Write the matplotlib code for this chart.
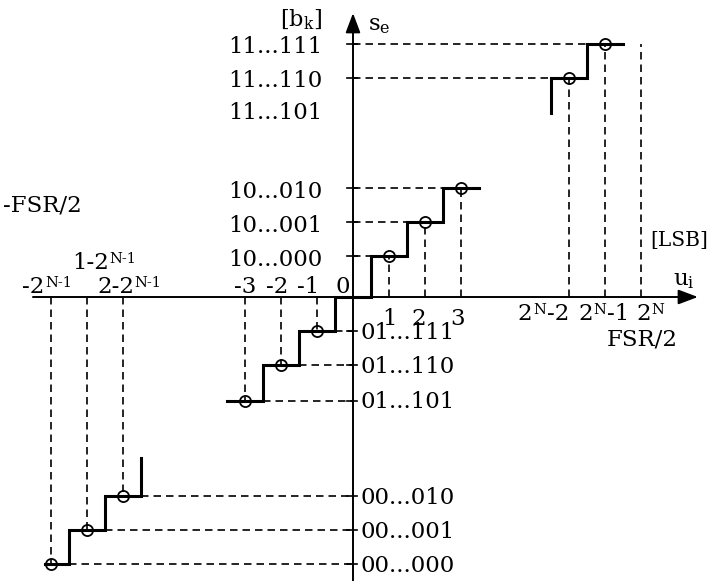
import matplotlib
matplotlib.use("Agg")
import matplotlib.pyplot as plt

plt.rcParams['font.family'] = 'DejaVu Serif'
plt.rcParams['mathtext.fontset'] = 'dejavuserif'

# output codes [b_k] and their levels on the s_e axis (step units)
codes_hi = ['11...111', '11...110', '10...010', '10...001', '10...000']
lev_hi = [7.45, 6.45, 3.2, 2.2, 1.2]
codes_lo = ['01...111', '01...110', '01...101', '00...010', '00...001', '00...000']
lev_lo = [-1.0, -2.0, -3.05, -5.85, -6.85, -7.85]
gap_code = '11...101'
gap_lev = 5.4

# staircase around zero (input u_i in LSB)
mid_edges = [-3.5, -2.5, -1.5, -0.5, 0.5, 1.5, 2.5, 3.5]
mid_lev = [-3.05, -2.0, -1.0, 0.0, 1.2, 2.2, 3.2]
mid_u = [-3, -2, -1, 1, 2, 3]
mid_s = [-3.05, -2.0, -1.0, 1.2, 2.2, 3.2]

# upper end of the range (2^N-2, 2^N-1, 2^N)
top_edges = [5.5, 6.5, 7.5]
top_lev = [6.45, 7.45]
top_start = 5.4
top_u = [6, 7]
top_s = [6.45, 7.45]
fsr_u = 8

# lower end of the range (-2^(N-1) ...)
bot_edges = [-8.55, -7.9, -6.9, -5.9]
bot_lev = [-7.85, -6.85, -5.85]
bot_end = -4.75
bot_u = [-8.4, -7.4, -6.4]
bot_s = [-7.85, -6.85, -5.85]

neg_labels = ['-3', '-2', '-1', '0']
neg_label_x = [-3.0, -2.1, -1.25, -0.28]
pos_labels = ['1', '2', '3']
pos_label_x = [1.0, 1.82, 2.9]

FS = 16.5
SFS = 10.5
dash = (0, (4.5, 3))


def stair_xy(edges, levels, start=None, end=None):
    x, y = [], []
    if start is not None:
        x.append(edges[0]); y.append(start)
    for i, lv in enumerate(levels):
        x += [edges[i], edges[i + 1]]
        y += [lv, lv]
    if end is not None:
        x.append(edges[-1]); y.append(end)
    return x, y


def guides(ax, edges, levels):
    # dashed line from each step to the s_e axis
    for i, lv in enumerate(levels):
        if lv > 0:
            ax.plot([0, edges[i]], [lv, lv], 'k', lw=1.2, ls=dash)
        elif lv < 0:
            ax.plot([edges[i + 1], 0], [lv, lv], 'k', lw=1.2, ls=dash)


def power_label(ax, x, y, base, sup, tail=''):
    # base text, small raised exponent, then optional tail on the base line
    t = ax.text(x, y, base, ha='left', va='center', fontsize=FS)
    s = ax.annotate(sup, xy=(1, 1), xycoords=t, xytext=(0.5, 0),
                    textcoords='offset points', ha='left', va='top', fontsize=SFS)
    if tail:
        ax.annotate(tail, xy=(1, 0), xycoords=(s, t), xytext=(0.5, 0),
                    textcoords='offset points', ha='left', va='bottom', fontsize=FS)


fig = plt.figure(figsize=(7.11, 5.81), dpi=100)
ax = fig.add_axes([0, 0, 1, 1])
ax.set_xlim(-353 / 36, 358 / 36)
ax.set_ylim(-284 / 34, 297 / 34)
ax.axis('off')

# axes with arrow heads
arrow = dict(arrowstyle='-|>,head_length=0.85,head_width=0.32', mutation_scale=14,
             lw=1.4, color='k', shrinkA=0, shrinkB=0)
ax.annotate('', xy=(9.58, 0), xytext=(-8.89, 0), arrowprops=arrow)
ax.annotate('', xy=(0, 8.35), xytext=(0, -8.4), arrowprops=arrow)

# dashed guides
guides(ax, mid_edges, mid_lev)
guides(ax, top_edges, top_lev)
guides(ax, bot_edges, bot_lev)
for u, s in zip(mid_u + top_u + bot_u, mid_s + top_s + bot_s):
    ax.plot([u, u], [0, s], 'k', lw=1.2, ls=dash)
ax.plot([fsr_u, fsr_u], [0, top_lev[-1]], 'k', lw=1.2, ls=dash)

# small ticks on the s_e axis
for lv in lev_hi + lev_lo:
    ax.plot([-0.17, 0.1], [lv, lv], 'k', lw=1.2)

# staircases
for xs, ys in [stair_xy(mid_edges, mid_lev),
               stair_xy(top_edges, top_lev, start=top_start),
               stair_xy(bot_edges, bot_lev, end=bot_end)]:
    ax.plot(xs, ys, 'k', lw=2.2, solid_joinstyle='miter')

# code centres
ax.plot(mid_u + top_u + bot_u, mid_s + top_s + bot_s, 'o', mfc='none', mec='k',
        mew=1.3, ms=8)

# code labels
for c, lv in zip(codes_hi, lev_hi):
    ax.text(-0.85, lv - 0.1, c, ha='right', va='center', fontsize=FS)
ax.text(-0.85, gap_lev, gap_code, ha='right', va='center', fontsize=FS)
for c, lv in zip(codes_lo, lev_lo):
    ax.text(0.22, lv - 0.05, c, ha='left', va='center', fontsize=FS)

# input axis labels
for t, x in zip(neg_labels, neg_label_x):
    ax.text(x, 0.3, t, ha='center', va='center', fontsize=FS)
for t, x in zip(pos_labels, pos_label_x):
    ax.text(x, -0.65, t, ha='center', va='center', fontsize=FS)

power_label(ax, -9.19, 0.3, '-2', 'N-1')
power_label(ax, -7.11, 0.3, '2-2', 'N-1')
power_label(ax, -7.8, 1.0, '1-2', 'N-1')
ax.text(-9.72, 2.7, '-FSR/2', ha='left', va='center', fontsize=FS)

power_label(ax, 4.58, -0.5, '2', 'N', '-2')
power_label(ax, 6.25, -0.5, '2', 'N', '-1')
power_label(ax, 7.86, -0.5, '2', 'N')
ax.text(7.06, -1.26, 'FSR/2', ha='left', va='center', fontsize=FS)
ax.text(8.25, 1.65, '[LSB]', ha='left', va='center', fontsize=14.5)
ax.text(8.89, 0.5, r'$\mathregular{u_i}$', ha='left', va='center', fontsize=FS)

ax.text(-0.85, 8.15, r'$\mathregular{[b_k]}$', ha='right', va='center', fontsize=16)
ax.text(0.42, 8.0, r'$\mathregular{s_e}$', ha='left', va='center', fontsize=FS)

fig.savefig('out.png', dpi=100)
